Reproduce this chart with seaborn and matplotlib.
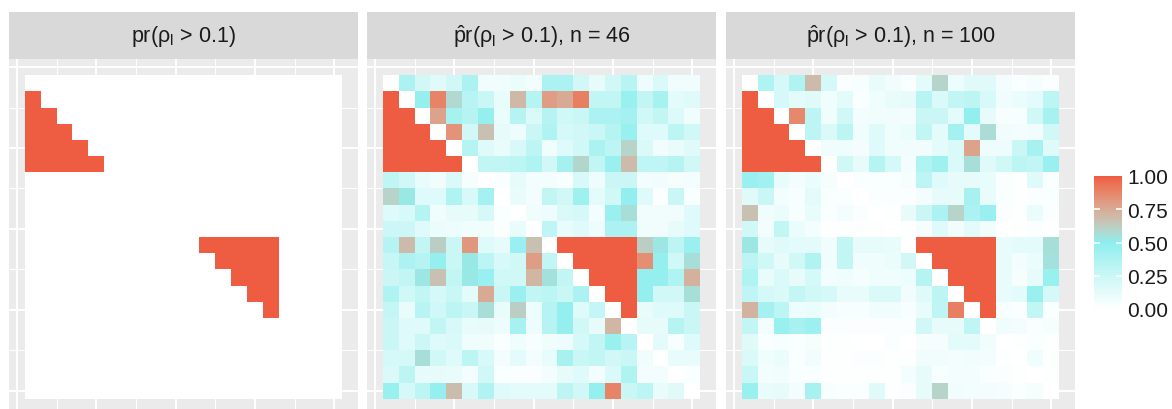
import numpy as np
import matplotlib
matplotlib.use("Agg")
import matplotlib.pyplot as plt
import matplotlib.colors as mcolors
import seaborn as sns

# true probability pr(rho_l > 0.1)
true_pr = [
    [0, 0, 0, 0, 0, 0, 0, 0, 0, 0, 0, 0, 0, 0, 0, 0, 0, 0, 0, 0],
    [1, 0, 0, 0, 0, 0, 0, 0, 0, 0, 0, 0, 0, 0, 0, 0, 0, 0, 0, 0],
    [1, 1, 0, 0, 0, 0, 0, 0, 0, 0, 0, 0, 0, 0, 0, 0, 0, 0, 0, 0],
    [1, 1, 1, 0, 0, 0, 0, 0, 0, 0, 0, 0, 0, 0, 0, 0, 0, 0, 0, 0],
    [1, 1, 1, 1, 0, 0, 0, 0, 0, 0, 0, 0, 0, 0, 0, 0, 0, 0, 0, 0],
    [1, 1, 1, 1, 1, 0, 0, 0, 0, 0, 0, 0, 0, 0, 0, 0, 0, 0, 0, 0],
    [0, 0, 0, 0, 0, 0, 0, 0, 0, 0, 0, 0, 0, 0, 0, 0, 0, 0, 0, 0],
    [0, 0, 0, 0, 0, 0, 0, 0, 0, 0, 0, 0, 0, 0, 0, 0, 0, 0, 0, 0],
    [0, 0, 0, 0, 0, 0, 0, 0, 0, 0, 0, 0, 0, 0, 0, 0, 0, 0, 0, 0],
    [0, 0, 0, 0, 0, 0, 0, 0, 0, 0, 0, 0, 0, 0, 0, 0, 0, 0, 0, 0],
    [0, 0, 0, 0, 0, 0, 0, 0, 0, 0, 0, 1, 1, 1, 1, 1, 0, 0, 0, 0],
    [0, 0, 0, 0, 0, 0, 0, 0, 0, 0, 0, 0, 1, 1, 1, 1, 0, 0, 0, 0],
    [0, 0, 0, 0, 0, 0, 0, 0, 0, 0, 0, 0, 0, 1, 1, 1, 0, 0, 0, 0],
    [0, 0, 0, 0, 0, 0, 0, 0, 0, 0, 0, 0, 0, 0, 1, 1, 0, 0, 0, 0],
    [0, 0, 0, 0, 0, 0, 0, 0, 0, 0, 0, 0, 0, 0, 0, 1, 0, 0, 0, 0],
    [0, 0, 0, 0, 0, 0, 0, 0, 0, 0, 0, 0, 0, 0, 0, 0, 0, 0, 0, 0],
    [0, 0, 0, 0, 0, 0, 0, 0, 0, 0, 0, 0, 0, 0, 0, 0, 0, 0, 0, 0],
    [0, 0, 0, 0, 0, 0, 0, 0, 0, 0, 0, 0, 0, 0, 0, 0, 0, 0, 0, 0],
    [0, 0, 0, 0, 0, 0, 0, 0, 0, 0, 0, 0, 0, 0, 0, 0, 0, 0, 0, 0],
    [0, 0, 0, 0, 0, 0, 0, 0, 0, 0, 0, 0, 0, 0, 0, 0, 0, 0, 0, 0],
]

# estimated, n = 46
est_n46 = [
    [0, .38, .22, .15, .23, .38, .07, .07, .10, .06, .38, .38, .22, .12, .22, .33, .09, .18, .07, .07],
    [1, 0, .47, .88, .58, .33, .26, .11, .70, .35, .80, .75, .90, .29, .29, .46, .29, .40, .13, .15],
    [1, 1, 0, .78, .40, .34, .47, .10, .34, .18, .34, .23, .26, .38, .38, .41, .23, .29, .17, .08],
    [1, 1, 1, 0, .83, .22, .67, .12, .09, .25, .37, .20, .22, .26, .34, .46, .16, .16, .31, .23],
    [1, 1, 1, 1, 0, .34, .16, .11, .19, .31, .08, .16, .23, .38, .31, .60, .18, .07, .11, .15],
    [1, 1, 1, 1, 1, 0, .29, .29, .32, .37, .22, .41, .59, .29, .45, .69, .30, .30, .34, .22],
    [.30, .23, .11, .07, .18, .05, 0, .03, .12, .06, .06, .04, .19, .09, .25, .25, .06, .07, .05, .06],
    [.60, .52, .16, .16, .37, .19, .41, 0, .11, .06, .29, .22, .43, .13, .23, .48, .16, .02, .25, .03],
    [.16, .19, .34, .08, .12, .12, .20, .03, 0, .07, .09, .18, .20, .06, .45, .56, .07, .07, .07, .16],
    [.24, .24, .16, .10, .09, .08, .08, .02, .11, 0, .30, .11, .16, .09, .38, .38, .07, .07, .12, .16],
    [.34, .69, .29, .62, .25, .82, .16, .12, .45, .67, 0, 1, 1, 1, 1, 1, .62, .53, .31, .45],
    [.27, .38, .34, .47, .26, .52, .32, .19, .23, .80, .29, 0, 1, 1, 1, 1, .85, .47, .23, .56],
    [.25, .29, .53, .67, .29, .52, .45, .23, .23, .71, .55, .29, 0, 1, 1, 1, .47, .47, .37, .73],
    [.37, .23, .29, .20, .26, .13, .75, .26, .45, .29, .32, .26, .38, 0, 1, 1, .47, .22, .22, .56],
    [.28, .11, .33, .23, .31, .26, .56, .11, .62, .09, .34, .47, .16, .28, 0, 1, .11, .16, .16, .26],
    [.25, .16, .16, .29, .19, .11, .12, .09, .40, .09, .34, .47, .22, .12, .71, 0, .12, .12, .34, .25],
    [.25, .16, .24, .16, .18, .08, .08, .03, .08, .04, .08, .09, .20, .29, .46, .33, 0, .14, .04, .16],
    [.20, .20, .56, .23, .16, .32, .19, .06, .13, .06, .11, .40, .26, .29, .22, .26, .07, 0, .11, .11],
    [.18, .31, .12, .12, .11, .06, .23, .03, .02, .02, .06, .12, .16, .06, .18, .37, .06, .06, 0, .03],
    [.46, .20, .32, .47, .68, .19, .37, .16, .13, .13, .14, .31, .22, .47, .88, .26, .32, .11, .15, 0],
]

# estimated, n = 100
est_n100 = [
    [0, .37, .20, .37, .69, .20, .02, .04, .11, .07, .03, .14, .60, .09, .15, .15, .06, .03, .05, .02],
    [1, 0, .20, .13, .15, .08, .14, .03, .08, .11, .12, .33, .18, .29, .31, .19, .07, .10, .14, .32],
    [1, 1, 0, .87, .31, .08, .23, .06, .07, .07, .06, .25, .25, .13, .48, .12, .04, .04, .23, .40],
    [1, 1, 1, 0, .31, .18, .31, .08, .16, .08, .10, .29, .14, .41, .14, .57, .07, .06, .07, .23],
    [1, 1, 1, 1, 0, .08, .08, .06, .16, .08, .07, .07, .14, .18, .78, .09, .09, .26, .40, .16],
    [1, 1, 1, 1, 1, 0, .23, .12, .34, .20, .06, .37, .43, .18, .56, .15, .23, .32, .29, .45],
    [.45, .42, .11, .06, .10, .05, 0, .03, .03, .03, .05, .31, .16, .12, .12, .11, .03, .01, .16, .03],
    [.15, .25, .06, .04, .14, .03, .03, 0, .03, .02, .02, .06, .12, .12, .40, .11, .03, .01, .02, .03],
    [.67, .07, .10, .04, .11, .03, .06, .02, 0, .01, .12, .25, .38, .60, .38, .45, .02, .01, .10, .02],
    [.23, .06, .29, .10, .06, .01, .01, .01, .01, 0, .01, .05, .16, .07, .14, .07, 0, .01, .02, .01],
    [.53, .12, .15, .14, .14, .07, .29, .12, .12, .11, 0, 1, 1, 1, 1, 1, .11, .14, .14, .56],
    [.31, .23, .12, .23, .37, .08, .29, .08, .08, .10, .22, 0, 1, 1, 1, 1, .11, .06, .10, .55],
    [.37, .11, .18, .12, .20, .06, .08, .05, .08, .08, .09, .34, 0, 1, 1, 1, .11, .05, .12, .46],
    [.30, .20, .18, .28, .23, .20, .11, .11, .18, .18, .07, .15, .31, 0, 1, 1, .11, .14, .46, .20],
    [.72, .41, .32, .09, .10, .06, .04, .04, .07, .07, .04, .11, .30, .90, 0, 1, .04, .02, .29, .03],
    [.29, .06, .46, .40, .44, .02, .02, .02, .02, .02, .03, .22, .12, .12, .30, 0, .07, .06, .03, .05],
    [.15, .03, .04, .03, .05, .01, .01, 0, 0, .02, 0, .05, .05, .13, .13, .07, 0, .01, .03, .01],
    [.18, .08, .10, .03, .07, .01, .01, .02, .02, .01, .01, .07, .07, .06, .07, .06, .01, 0, .08, .01],
    [.26, .06, .07, .03, .03, .01, .01, .01, .01, .01, .06, .12, .04, .06, .06, .03, .02, .01, 0, .01],
    [.46, .11, .12, .06, .40, .04, .03, .03, .15, .01, .02, .12, .60, .07, .06, .06, .05, .03, .05, 0],
]

titles = [
    "pr(ρ$_\\mathrm{l}$ > 0.1)",
    "$\\hat{\\mathrm{p}}$r(ρ$_\\mathrm{l}$ > 0.1), n = 46",
    "$\\hat{\\mathrm{p}}$r(ρ$_\\mathrm{l}$ > 0.1), n = 100",
]
cbar_ticks = [0, 0.25, 0.5, 0.75, 1]
cbar_labels = ["0.00", "0.25", "0.50", "0.75", "1.00"]

sns.set_theme(style="white")
plt.rcParams["font.family"] = ["Liberation Sans", "DejaVu Sans"]
plt.rcParams["mathtext.fontset"] = "custom"
plt.rcParams["mathtext.rm"] = "Liberation Sans"
plt.rcParams["mathtext.it"] = "Liberation Sans:italic"
plt.rcParams["mathtext.bf"] = "Liberation Sans:bold"


# gradient like ggplot's gradient2 (interpolated in Lab)
def to_lab(c):
    rgb = np.array(mcolors.to_rgb(c))
    lin = np.where(rgb <= 0.04045, rgb / 12.92, ((rgb + 0.055) / 1.055) ** 2.4)
    M = np.array([[0.4124, 0.3576, 0.1805], [0.2126, 0.7152, 0.0722], [0.0193, 0.1192, 0.9505]])
    xyz = M @ lin / np.array([0.95047, 1.0, 1.08883])
    f = np.where(xyz > 0.008856, np.cbrt(xyz), 7.787 * xyz + 16 / 116)
    return np.array([116 * f[1] - 16, 500 * (f[0] - f[1]), 200 * (f[1] - f[2])])


def from_lab(lab):
    fy = (lab[0] + 16) / 116
    fx = fy + lab[1] / 500
    fz = fy - lab[2] / 200
    f = np.array([fx, fy, fz])
    xyz = np.where(f ** 3 > 0.008856, f ** 3, (f - 16 / 116) / 7.787) * np.array([0.95047, 1.0, 1.08883])
    Minv = np.linalg.inv(np.array([[0.4124, 0.3576, 0.1805], [0.2126, 0.7152, 0.0722], [0.0193, 0.1192, 0.9505]]))
    lin = np.clip(Minv @ xyz, 0, 1)
    rgb = np.where(lin <= 0.0031308, lin * 12.92, 1.055 * lin ** (1 / 2.4) - 0.055)
    return np.clip(rgb, 0, 1)


low, mid, high = to_lab("white"), to_lab("#8DEEEE"), to_lab("#EE5C42")
cols = []
for t in np.linspace(0, 1, 256):
    if t <= 0.5:
        lab = low + (mid - low) * (t / 0.5)
    else:
        lab = mid + (high - mid) * ((t - 0.5) / 0.5)
    cols.append(from_lab(lab))
cmap = mcolors.ListedColormap(cols)

W, H = 1172, 410


def box(x0, y0, x1, y1):
    return [x0 / W, 1 - y1 / H, (x1 - x0) / W, (y1 - y0) / H]


fig = plt.figure(figsize=(11.72, 4.1), dpi=100)
cax = fig.add_axes(box(1094, 177, 1122, 310))

panels = [(9, 358), (367, 716), (726, 1075)]
mats = [true_pr, est_n46, est_n100]

for i, ((x0, x1), m, title) in enumerate(zip(panels, mats, titles)):
    ax = fig.add_axes(box(x0, 60, x1, 416))
    sns.heatmap(np.array(m, dtype=float), ax=ax, cmap=cmap, vmin=0, vmax=1,
                cbar=(i == 2), cbar_ax=cax if i == 2 else None,
                xticklabels=False, yticklabels=False)
    ax.set_xlim(-1, 21)
    ax.set_ylim(21, -1)
    ax.set_facecolor("#EBEBEB")
    major = [-0.5, 4.5, 9.5, 14.5, 19.5]
    minor = [2, 7, 12, 17]
    ax.set_xticks(major)
    ax.set_xticks(minor, minor=True)
    ax.set_yticks(major)
    ax.set_yticks(minor, minor=True)
    ax.grid(True, which="major", color="white", lw=1.4)
    ax.grid(True, which="minor", color="white", lw=0.7)
    ax.set_axisbelow(True)
    ax.tick_params(which="both", length=0, labelbottom=False, labelleft=False)
    for s in ax.spines.values():
        s.set_visible(False)

    sax = fig.add_axes(box(x0, 13, x1, 60))
    sax.set_facecolor("#D9D9D9")
    sax.set_xticks([])
    sax.set_yticks([])
    for s in sax.spines.values():
        s.set_visible(False)
    sax.text(0.5, 0.5, title, ha="center", va="center", fontsize=15.5,
             color="#1A1A1A", transform=sax.transAxes)

    if i == 2:
        cb = ax.collections[0].colorbar
        cb.outline.set_visible(False)
        cb.set_ticks(cbar_ticks)
        cb.set_ticklabels(cbar_labels)
        cax.tick_params(length=0, labelsize=15, pad=4, labelcolor="#1A1A1A")
        tr = cax.get_yaxis_transform()
        cax.hlines([0.25, 0.5, 0.75], 0, 0.21, colors="white", lw=1.2, transform=tr)
        cax.hlines([0.25, 0.5, 0.75], 0.79, 1, colors="white", lw=1.2, transform=tr)

fig.savefig("out.png", dpi=100)
